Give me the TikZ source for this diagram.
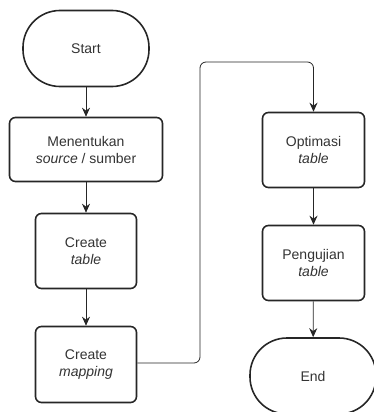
\documentclass[tikz,border=0pt]{standalone}
\usepackage{fontspec}
\setmainfont{Liberation Sans}
\usetikzlibrary{arrows.meta}
\definecolor{txt}{HTML}{333333}
\tikzset{
  x=1pt, y=-1pt,
  proc/.style={draw=black!85, line width=1.6pt, rounded corners=6pt, align=center,
    text=txt, font=\fontsize{14}{17}\selectfont, inner sep=0pt},
  term/.style={draw=black!85, line width=1.6pt, rounded corners=37pt, align=center,
    text=txt, font=\fontsize{14}{17}\selectfont, inner sep=0pt,
    minimum width=126pt, minimum height=76pt},
  conn/.style={draw=black!85, line width=0.8pt, -{Stealth[length=9pt,width=8pt]}},
}
\begin{document}
\begin{tikzpicture}
\useasboundingbox (0,0) rectangle (374,412);
\node[term] (start) at (86,48.5) {Start};
\node[proc, minimum width=153pt, minimum height=64pt] (src) at (86,149.5) {Menentukan\\\textit{source} / sumber};
\node[proc, minimum width=101pt, minimum height=75pt] (tab) at (86,251) {Create\\\textit{table}};
\node[proc, minimum width=101pt, minimum height=76pt] (map) at (86,364.5) {Create\\\textit{mapping}};
\node[proc, minimum width=102pt, minimum height=75pt] (opt) at (313.5,150) {Optimasi\\\textit{table}};
\node[proc, minimum width=102pt, minimum height=75pt] (uji) at (313.5,263) {Pengujian\\\textit{table}};
\node[term] (end) at (313,376) {End};
\coordinate (c1) at (200,363);
\coordinate (c2) at (200,62);
\coordinate (c3) at (313.5,62);
\draw[conn] (start) -- (src);
\draw[conn] (src) -- (tab);
\draw[conn] (tab) -- (map);
\draw[conn, rounded corners=6pt] (map.east |- c1) -- (c1) -- (c2) -- (c3) -- (opt.north);
\draw[conn] (opt) -- (uji);
\draw[conn] (uji) -- (end);
\end{tikzpicture}
\end{document}
